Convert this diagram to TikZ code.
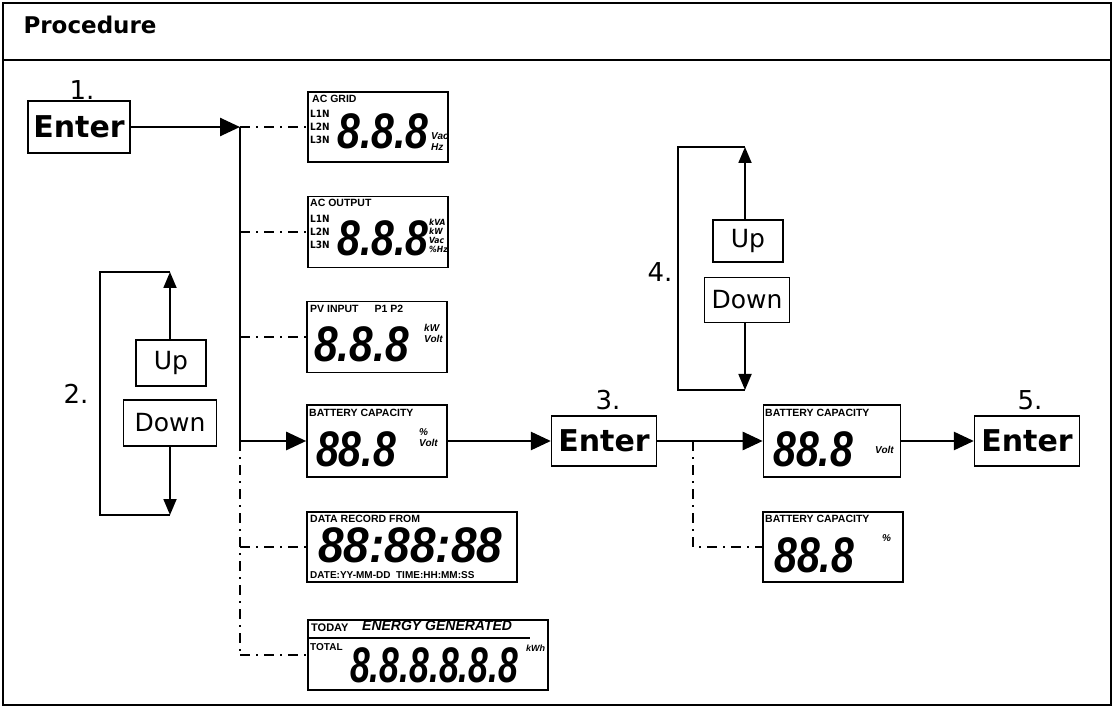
\documentclass[tikz,border=0pt]{standalone}
\usepackage{fontspec}
\setmainfont{DejaVu Sans}
\newfontfamily\lcdf{Liberation Sans}
\newfontfamily\lcdn{DejaVu Sans Condensed}
\usetikzlibrary{arrows.meta}
\newcommand{\dig}[2]{\scalebox{#1}[1]{#2}}
\begin{document}
\begin{tikzpicture}[x=1pt,y=-1pt,
  box/.style={draw,line width=1.6pt,inner sep=0pt},
  btn/.style={draw,line width=1.3pt,inner sep=0pt,font=\fontsize{30}{30}\selectfont\bfseries},
  ud/.style={draw,line width=1.1pt,inner sep=0pt,font=\fontsize{25}{25}\selectfont},
  num/.style={font=\fontsize{26}{26}\selectfont},
  arr/.style={line width=2.6pt,-{Triangle[length=20pt,width=18pt]}},
  sarr/.style={line width=1.8pt,-{Triangle[length=16pt,width=13pt]}},
  dd/.style={line width=1.2pt,dash pattern=on 10pt off 6pt on 2pt off 6pt},
  lab/.style={font=\lcdf\bfseries\fontsize{10.5}{10.5}\selectfont,inner sep=0pt,anchor=north west},
  big/.style={font=\lcdf\bfseries\itshape\fontsize{50}{50}\selectfont,inner sep=0pt,anchor=west},
  unit/.style={font=\lcdf\bfseries\itshape\fontsize{10}{11}\selectfont,inner sep=0pt,align=left,anchor=west}]
\useasboundingbox (0,0) rectangle (1114,708);
\draw[line width=1.8pt] (3,3) rectangle (1111,705);
\draw[line width=1.8pt] (3,60) -- (1111,60);
\node[anchor=west,font=\fontsize{23}{23}\selectfont\bfseries] (title) at (20,25) {Procedure};

% step 1
\node[btn,minimum width=102pt,minimum height=52pt] (e1) at (79,127) {Enter};
\node[num] (n1) at (82,90) {1.};
\coordinate (j1) at (240,127);
\coordinate (j4) at (240,441);
\coordinate (jend) at (240,655);
\draw[arr] (e1.east) -- (j1);
\draw[line width=2.6pt] (j1) -- (j4);

% LCD boxes
\node[box,minimum width=140pt,minimum height=70pt] (b1) at (378,127) {};
\node[lab] at (312,95) {AC GRID};
\node[lab,align=left,font=\lcdn\bfseries\fontsize{10}{13}\selectfont] at (310,110) {L1N\\L2N\\L3N};
\node[big] at (337,131) {\dig{0.82}{8.8.8}};
\node[unit] at (431,142) {Vac\\Hz};

\node[box,minimum width=140pt,minimum height=71pt] (b2) at (378,232) {};
\node[lab] at (310,199) {AC OUTPUT};
\node[lab,align=left,font=\lcdn\bfseries\fontsize{10}{13}\selectfont] at (310,215) {L1N\\L2N\\L3N};
\node[big] at (337,238) {\dig{0.82}{8.8.8}};
\node[unit,font=\lcdn\bfseries\itshape\fontsize{8.5}{8.8}\selectfont] at (429,236) {kVA\\kW\\Vac\\\%Hz};

\node[box,minimum width=140pt,minimum height=71pt] (b3) at (377,337) {};
\node[lab] at (310,305) {PV INPUT\hspace{16pt}P1 P2};
\node[big] at (314,344) {\dig{0.85}{8.8.8}};
\node[unit] at (424,333) {kW\\Volt};

\node[box,minimum width=140pt,minimum height=72pt] (b4) at (377,441) {};
\node[lab] at (309,409) {BATTERY CAPACITY};
\node[big] at (316,449) {\dig{0.82}{88.8}};
\node[unit] at (419,438) {\%\\Volt};

\node[box,minimum width=210pt,minimum height=70pt] (b5) at (412,547) {};
\node[lab] at (310,515) {DATA RECORD FROM};
\node[big] at (318,545) {\dig{0.92}{88:88:88}};
\node[lab,font=\lcdf\bfseries\fontsize{10}{10}\selectfont] at (310,571) {DATE:YY-MM-DD\ \ TIME:HH:MM:SS};

\node[box,minimum width=240pt,minimum height=70pt] (b6) at (428,655) {};
\node[lab,font=\lcdf\bfseries\fontsize{11}{11}\selectfont] at (311,624) {TODAY};
\node[lab,font=\lcdf\bfseries\itshape\fontsize{14}{14}\selectfont] at (362,621) {ENERGY GENERATED};
\draw[line width=1.4pt] (308,638) -- (530,638);
\node[lab,font=\lcdf\bfseries\fontsize{10}{10}\selectfont] at (310,643) {TOTAL};
\node[big] at (350,665) {\dig{0.71}{8.8.8.8.8.8}};
\node[unit,font=\lcdf\bfseries\itshape\fontsize{9}{9}\selectfont] at (526,648) {kWh};

\draw[dd] (j1) -- (b1.west);
\draw[dd] (240,232) -- (b2.west);
\draw[dd] (240,337) -- (b3.west);
\draw[dd] (j4) -- (jend);
\draw[dd] (240,547) -- (b5.west);
\draw[dd] (jend) -- (b6.west);
\draw[arr] (j4) -- (b4.west);

% step 2
\node[ud,minimum width=70pt,minimum height=46pt] (u2) at (171,363) {Up};
\node[ud,minimum width=93pt,minimum height=46pt] (d2) at (170,423) {Down};
\node[num] (n2) at (76,394) {2.};
\coordinate (u2t) at (170,272);
\coordinate (d2b) at (170,515);
\draw[sarr] (u2.north -| u2t) -- (u2t);
\draw[sarr] (d2.south -| d2b) -- (d2b);
\draw[line width=1.8pt] (u2t) -- (100,272) -- (100,515) -- (d2b);

% step 3
\node[btn,minimum width=105pt,minimum height=50pt] (e3) at (604,441) {Enter};
\node[num] (n3) at (608,400) {3.};
\draw[arr] (b4.east) -- (e3.west);
\node[box,minimum width=137pt,minimum height=72pt] (b7) at (832,441) {};
\node[lab] at (765,409) {BATTERY CAPACITY};
\node[big] at (773,449) {\dig{0.82}{88.8}};
\node[unit] at (875,450) {Volt};
\draw[arr] (e3.east) -- (b7.west);
\node[box,minimum width=140pt,minimum height=70pt] (b8) at (833,547) {};
\node[lab] at (765,515) {BATTERY CAPACITY};
\node[big] at (774,555) {\dig{0.82}{88.8}};
\node[unit] at (882,538) {\%};
\coordinate (j7) at (693,441);
\draw[dd] (j7) -- (693,547) -- (b8.west);

% step 4
\node[ud,minimum width=70pt,minimum height=42pt] (u4) at (748,241) {Up};
\node[ud,minimum width=85pt,minimum height=45pt] (d4) at (747,300) {Down};
\node[num] (n4) at (660,272) {4.};
\coordinate (u4t) at (745,147);
\coordinate (d4b) at (745,390);
\draw[sarr] (u4.north -| u4t) -- (u4t);
\draw[sarr] (d4.south -| d4b) -- (d4b);
\draw[line width=1.8pt] (u4t) -- (678,147) -- (678,390) -- (d4b);

% step 5
\node[btn,minimum width=105pt,minimum height=50pt] (e5) at (1027,441) {Enter};
\node[num] (n5) at (1030,400) {5.};
\draw[arr] (b7.east) -- (e5.west);
\end{tikzpicture}
\end{document}
